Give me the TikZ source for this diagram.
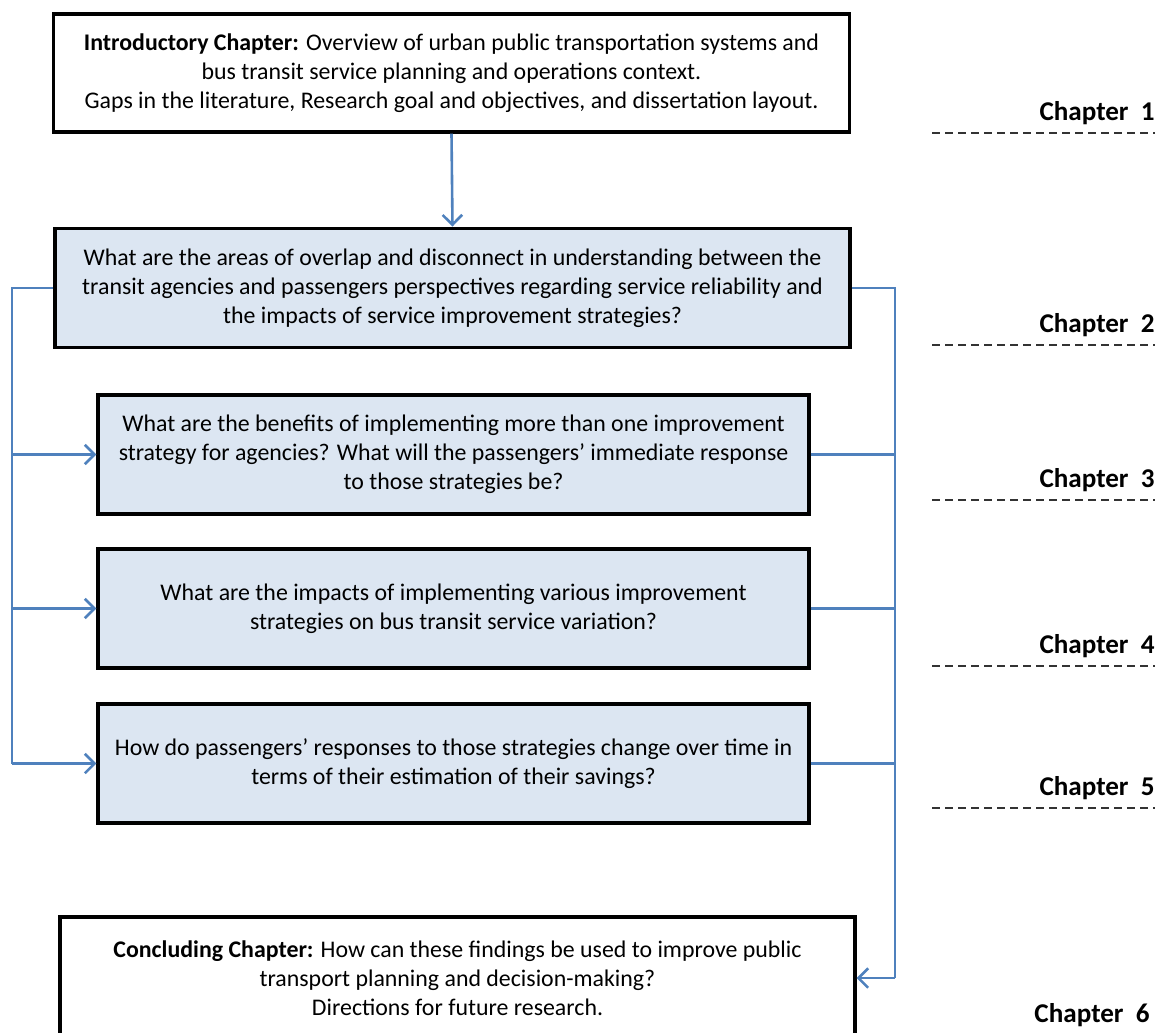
\documentclass[tikz,border=0pt]{standalone}
\usepackage{fontspec}
\setmainfont{Carlito}
\usepackage{xcolor}
\usetikzlibrary{arrows.meta,positioning,calc}

\definecolor{linkblue}{HTML}{4F81BD}
\definecolor{qfill}{HTML}{DCE6F2}

\begin{document}
\begin{tikzpicture}[
  x=0.0162cm, y=-0.0162cm,
  every node/.style={font=\fontsize{11}{13.4}\selectfont},
  box/.style={rectangle,draw=black,fill=white,line width=1.5pt,align=center,inner sep=4pt},
  qbox/.style={box,fill=qfill,minimum width=11.52cm,minimum height=1.93cm},
  bline/.style={draw=linkblue,line width=1.2pt},
  arrow/.style={bline,-{Straight Barb[length=4.5pt,width=9pt]}},
  chap/.style={anchor=base east,inner sep=0pt,font=\fontsize{12.5}{15}\selectfont\bfseries},
  dashline/.style={draw=black!80,line width=0.6pt,dash pattern=on 3.5pt off 2.5pt}
]
\useasboundingbox (0,0) rectangle (1163,1032);

% chapter boxes
\node[box,minimum width=12.91cm,minimum height=1.91cm] (intro) at (451.5,73)
  {\textbf{Introductory Chapter:} Overview of urban public transportation systems and\\
   bus transit service planning and operations context.\\
   Gaps in the literature, Research goal and objectives, and dissertation layout.};
\node[qbox,minimum width=12.88cm,minimum height=1.94cm] (q1) at (452.5,288)
  {What are the areas of overlap and disconnect in understanding between the\\
   transit agencies and passengers perspectives regarding service reliability and\\
   the impacts of service improvement strategies?};
\node[qbox] (q2) at (453.5,454.5)
  {What are the benefits of implementing more than one improvement\\
   strategy for agencies? What will the passengers’ immediate response\\
   to those strategies be?};
\node[qbox] (q3) at (453.5,608.5)
  {What are the impacts of implementing various improvement\\
   strategies on bus transit service variation?};
\node[qbox] (q4) at (453.5,763.5)
  {How do passengers’ responses to those strategies change over time in\\
   terms of their estimation of their savings?};
\node[box,minimum width=12.88cm,minimum height=1.98cm] (concl) at (457.5,978)
  {\textbf{Concluding Chapter:} How can these findings be used to improve public\\
   transport planning and decision-making?\\
   Directions for future research.};

% chapter labels
\foreach \n/\yy in {1/120,2/332,3/487,4/653,5/795} {
  \node[chap] (ch\n) at (1155,\yy) {Chapter\ \ \n};
  \draw[dashline] (932,\yy+13) -- (1155,\yy+13);
}
\node[chap] (ch6) at (1150,1022) {Chapter\ \ 6};

% connectors
\coordinate (lbus) at (12,763.5);
\coordinate (rbus) at (895,978);
\draw[arrow] (intro.south) -- (q1.north);
\draw[bline] (q1.west) -| (lbus);
\foreach \q in {q2,q3,q4}
  \draw[arrow] (lbus |- \q.west) -- (\q.west);
\draw[bline] (q1.east) -| (rbus);
\foreach \q in {q2,q3,q4}
  \draw[bline] (\q.east) -- (\q.east -| rbus);
\draw[arrow] (rbus) -- (concl.east);
\end{tikzpicture}
\end{document}
